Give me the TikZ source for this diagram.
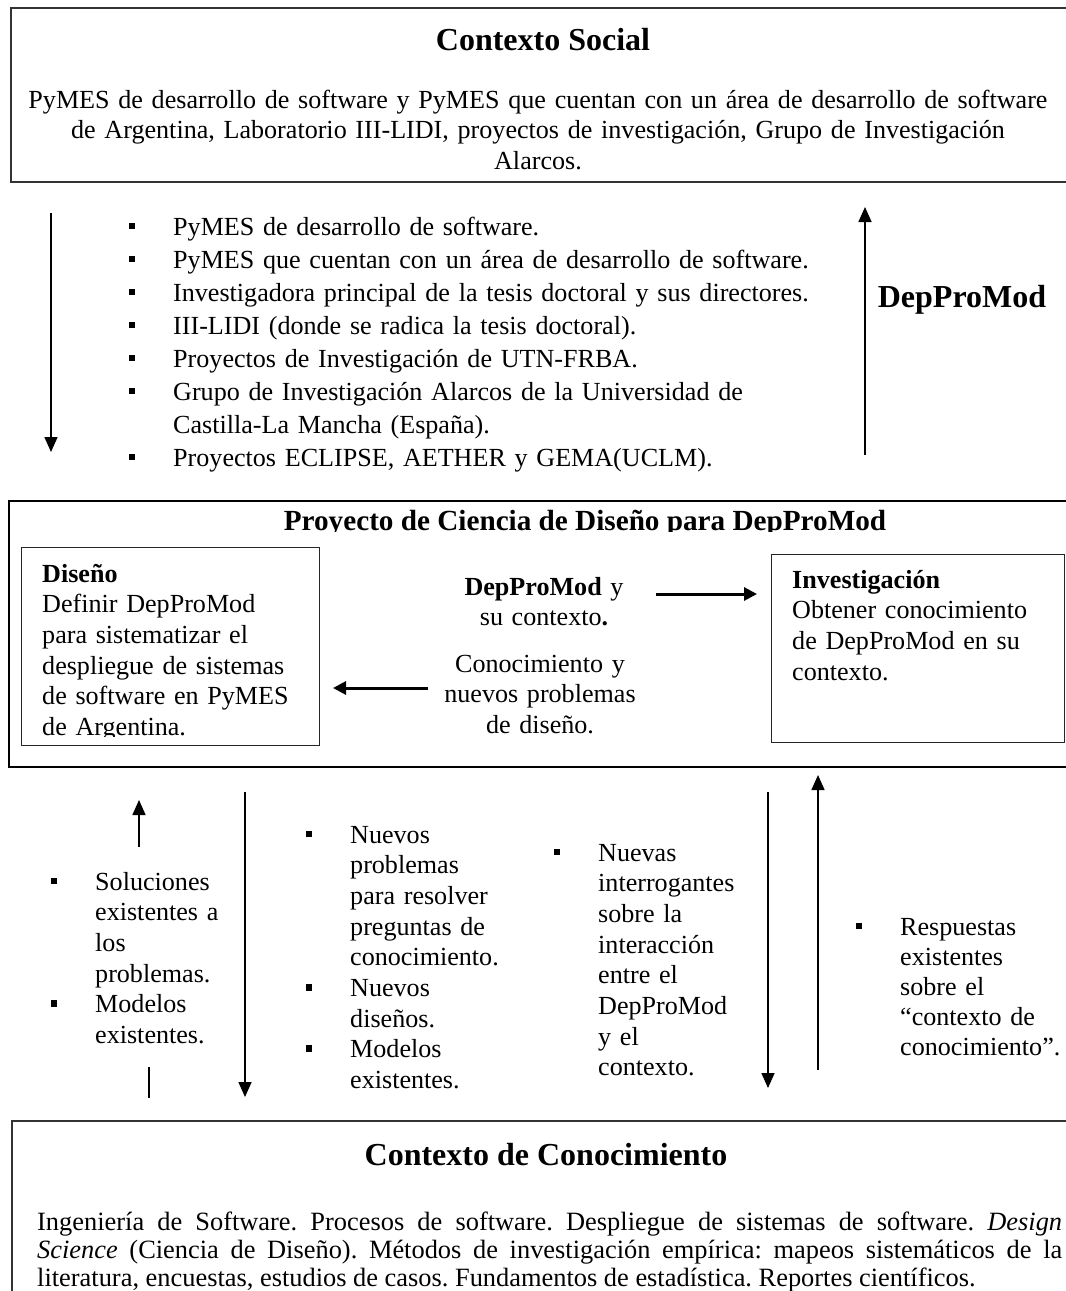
\documentclass[tikz,border=0pt]{standalone}
\usepackage{fontspec}
\setmainfont{Liberation Serif}
\usetikzlibrary{arrows.meta}

% type sizes (1pt = one unit of the drawing)
\newcommand{\bodyfont}{\fontsize{26.1}{30.7}\selectfont\frenchspacing}
\newcommand{\listfont}{\fontsize{26.1}{33}\selectfont\frenchspacing}
\newcommand{\headfont}{\fontsize{32}{36}\selectfont\bfseries}
% square list bullet hung to the left of the item text
\newcommand{\sqbullet}{\leavevmode\llap{\rule[6pt]{5.5pt}{6.5pt}\hspace{38.5pt}}}

\begin{document}
\begin{tikzpicture}[x=1pt,y=-1pt,
  frame/.style={draw=black!80, line width=1.8pt, inner sep=0pt, anchor=north west},
  inbox/.style={draw=black!85, line width=1.2pt, inner sep=0pt, anchor=north west},
  txt/.style={inner sep=0pt, font=\bodyfont, align=left},
  flow/.style={line width=1.6pt, -{Triangle[length=15pt,width=13pt]}},
  flowbold/.style={line width=3pt, -{Triangle[length=13pt,width=13pt]}},
]
\useasboundingbox (0,0) rectangle (1066,1291);
\clip (0,0) rectangle (1066,1291);

% ---------------- social context ----------------
\node[frame, minimum width=1075pt, minimum height=174pt] (socialbox) at (10,7) {};
\node[txt, font=\headfont, anchor=base] (socialtitle) at (543,50) {Contexto Social};
\node[txt, text width=1040pt, align=center, anchor=base] (socialtext) at (538,108)
  {PyMES de desarrollo de software y PyMES que cuentan con un área de desarrollo de software\\
   de Argentina, Laboratorio III-LIDI, proyectos de investigación, Grupo de Investigación\\
   Alarcos.};

\node[txt, font=\listfont, text width=700pt, anchor=base west] (sociallist) at (173,235)
  {\sqbullet PyMES de desarrollo de software.\\
   \sqbullet PyMES que cuentan con un área de desarrollo de software.\\
   \sqbullet Investigadora principal de la tesis doctoral y sus directores.\\
   \sqbullet III-LIDI (donde se radica la tesis doctoral).\\
   \sqbullet Proyectos de Investigación de UTN-FRBA.\\
   \sqbullet Grupo de Investigación Alarcos de la Universidad de\\
   Castilla-La Mancha (España).\\
   \sqbullet Proyectos ECLIPSE, AETHER y GEMA(UCLM).};

\node[txt, font=\headfont, anchor=base] (depright) at (962,307) {DepProMod};

\coordinate (downA) at (51,213);
\coordinate (downB) at (51,452);
\coordinate (upA) at (865,455);
\coordinate (upB) at (865,207);
\draw[flow] (downA) -- (downB);
\draw[flow] (upA) -- (upB);

% ---------------- design science project ----------------
\node[frame, draw=black, minimum width=1077pt, minimum height=266pt] (dsrbox) at (8,500) {};
\begin{scope}
  \clip (0,495) rectangle (1066,531);
  \node[txt, font=\fontsize{29.2}{34}\selectfont\bfseries, anchor=base] (dsrtitle) at (585,530)
    {Proyecto de Ciencia de Diseño para DepProMod};
\end{scope}

\node[inbox, minimum width=298pt, minimum height=198pt] (designbox) at (21,547) {};
\begin{scope}
  \clip (21,547) rectangle (319,736);
  \node[txt, text width=275pt, anchor=base west] (designtext) at (42,582)
    {\textbf{Diseño}\\
     Definir DepProMod\\
     para sistematizar el\\
     despliegue de sistemas\\
     de software en PyMES\\
     de Argentina.};
\end{scope}

\node[inbox, minimum width=293pt, minimum height=188pt] (investbox) at (771,554) {};
\node[txt, text width=265pt, anchor=base west] (investtext) at (792,588)
  {\textbf{Investigación}\\
   Obtener conocimiento\\
   de DepProMod en su\\
   contexto.};

\node[txt, text width=300pt, align=center, anchor=base] (artefact) at (544,595)
  {\textbf{DepProMod} y\\su contexto\textbf{.}};
\node[txt, text width=300pt, align=center, anchor=base] (knowledge) at (540,672)
  {Conocimiento y\\nuevos problemas\\de diseño.};

\coordinate (toInvA) at (656,594);
\coordinate (toInvB) at (757,594);
\coordinate (toDesA) at (428,688);
\coordinate (toDesB) at (333,688);
\draw[flowbold] (toInvA) -- (toInvB);
\draw[flowbold] (toDesA) -- (toDesB);

% ---------------- exchanges with the knowledge context ----------------
\node[txt, text width=200pt, anchor=base west] (colone) at (95,890)
  {\sqbullet Soluciones\\existentes a\\los\\problemas.\\
   \sqbullet Modelos\\existentes.};
\node[txt, text width=200pt, anchor=base west] (coltwo) at (350,843)
  {\sqbullet Nuevos\\problemas\\para resolver\\preguntas de\\conocimiento.\\
   \sqbullet Nuevos\\diseños.\\
   \sqbullet Modelos\\existentes.};
\node[txt, text width=200pt, anchor=base west] (colthree) at (598,861)
  {\sqbullet Nuevas\\interrogantes\\sobre la\\interacción\\entre el\\DepProMod\\y el\\contexto.};
\node[txt, font=\fontsize{26.1}{30}\selectfont, text width=200pt, anchor=base west] (colfour) at (900,935)
  {\sqbullet Respuestas\\existentes\\sobre el\\“contexto de\\conocimiento”.};

\coordinate (solUpA) at (139,847);
\coordinate (solUpB) at (139,800);
\coordinate (solTailA) at (149,1067);
\coordinate (solTailB) at (149,1098);
\draw[flow] (solUpA) -- (solUpB);
\draw[line width=1.6pt] (solTailA) -- (solTailB);

\coordinate (newDownA) at (245,792);
\coordinate (newDownB) at (245,1097);
\draw[flow] (newDownA) -- (newDownB);

\coordinate (askDownA) at (768,792);
\coordinate (askDownB) at (768,1088);
\draw[flow] (askDownA) -- (askDownB);

\coordinate (ansUpA) at (818,1070);
\coordinate (ansUpB) at (818,775);
\draw[flow] (ansUpA) -- (ansUpB);

% ---------------- knowledge context ----------------
\node[frame, minimum width=1075pt, minimum height=200pt] (knowbox) at (11,1120) {};
\node[txt, font=\headfont, anchor=base] (knowtitle) at (546,1165) {Contexto de Conocimiento};
\node[txt, font=\fontsize{26.4}{28}\selectfont\frenchspacing, text width=1025pt, align=justify, anchor=base west] (knowtext) at (37,1230)
  {Ingeniería de Software. Procesos de software. Despliegue de sistemas de software. \textit{Design}\linebreak
   \textit{Science} (Ciencia de Diseño). Métodos de investigación empírica: mapeos sistemáticos de la\linebreak
   literatura, encuestas, estudios de casos. Fundamentos de estadística. Reportes científicos.};
\end{tikzpicture}
\end{document}
